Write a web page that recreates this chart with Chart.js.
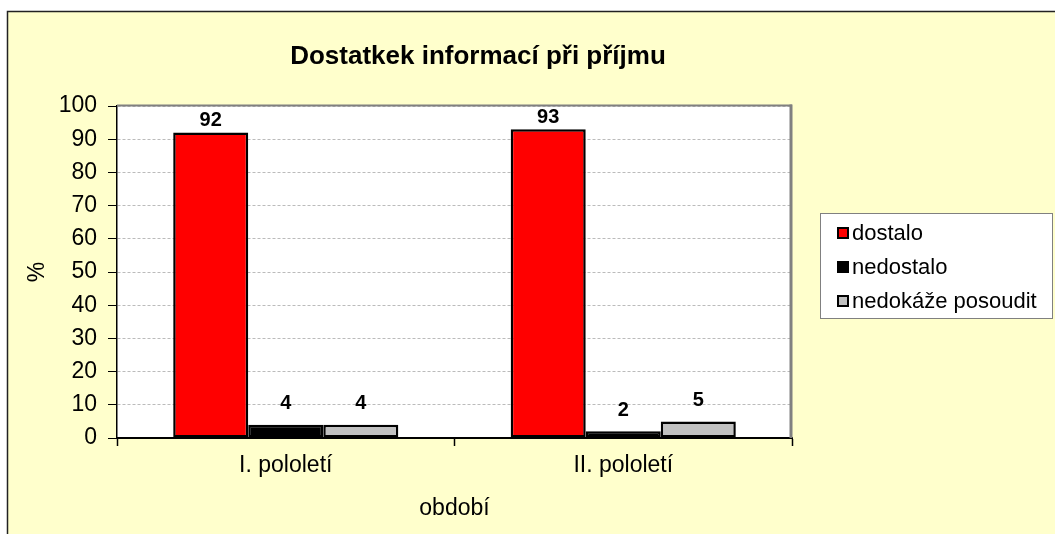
<!DOCTYPE html>
<html><head><meta charset="utf-8">
<script src="https://cdn.jsdelivr.net/npm/chart.js@4.4.0/dist/chart.umd.min.js"></script>
<style>html,body{margin:0;padding:0;background:#fff;overflow:hidden}#wrap{width:1055px;height:534px;position:relative}</style>
</head><body><div id="wrap"><canvas id="c" width="1055" height="534"></canvas></div>
<script>
const chartTitle = 'Dostatkek informací při příjmu';
const categories = ['I. pololetí', 'II. pololetí'];
const seriesNames = ['dostalo', 'nedostalo', 'nedokáže posoudit'];
const dostalo = [92, 93];
const nedostalo = [4, 2];
const nedokazePosoudit = [4, 5];
const yMin = 0, yMax = 100, yStep = 10;
const xTitle = 'období';
const yTitle = '%';

const FONT = "'Liberation Sans', Arial, sans-serif";
const colors = ['#FF0000', '#000000', '#C0C0C0'];
const labelOffsets = [12, 21, 21];
const seriesValues = [dostalo, nedostalo, nedokazePosoudit];

const bgPlugin = {
  id: 'bg',
  beforeDraw(chart) {
    const ctx = chart.ctx, a = chart.chartArea;
    ctx.save();
    ctx.fillStyle = '#FFFFFF';
    ctx.fillRect(0, 0, chart.width, chart.height);
    ctx.fillStyle = '#FFFFCC';
    ctx.fillRect(7, 11, chart.width, chart.height);
    ctx.strokeStyle = '#222222';
    ctx.lineWidth = 1.5;
    ctx.beginPath();
    ctx.moveTo(7.5, chart.height + 2);
    ctx.lineTo(7.5, 11.5);
    ctx.lineTo(chart.width + 2, 11.5);
    ctx.stroke();
    ctx.fillStyle = '#FFFFFF';
    ctx.fillRect(a.left, a.top, a.right - a.left, a.bottom - a.top);
    ctx.restore();
  },
  beforeDatasetsDraw(chart) {
    const ctx = chart.ctx, a = chart.chartArea;
    ctx.save();
    ctx.strokeStyle = '#808080';
    ctx.lineWidth = 2;
    ctx.beginPath();
    ctx.moveTo(a.left, a.top - 0.5);
    ctx.lineTo(a.right, a.top - 0.5);
    ctx.stroke();
    ctx.lineWidth = 3;
    ctx.beginPath();
    ctx.moveTo(a.right - 1, a.top - 1.5);
    ctx.lineTo(a.right - 1, a.bottom);
    ctx.stroke();
    ctx.restore();
  },
  afterDatasetsDraw(chart) {
    const ctx = chart.ctx;
    ctx.save();
    ctx.font = 'bold 20px ' + FONT;
    ctx.fillStyle = '#000';
    ctx.textAlign = 'center';
    ctx.textBaseline = 'middle';
    chart.data.datasets.forEach((ds, i) => {
      const meta = chart.getDatasetMeta(i);
      meta.data.forEach((el, j) => {
        ctx.fillText(String(ds.data[j]), el.x, el.y - labelOffsets[i]);
      });
    });
    ctx.restore();
  },
  afterDraw(chart) {
    const ctx = chart.ctx;
    ctx.save();
    // title
    ctx.font = 'bold 26px ' + FONT;
    ctx.fillStyle = '#000';
    ctx.textAlign = 'center';
    ctx.textBaseline = 'middle';
    ctx.fillText(chartTitle, 478, 57);
    // legend
    ctx.fillStyle = '#FFFFFF';
    ctx.fillRect(820, 213, 232, 105);
    ctx.strokeStyle = '#808080';
    ctx.lineWidth = 1;
    ctx.strokeRect(820.5, 213.5, 232, 105);
    ctx.font = '22px ' + FONT;
    ctx.textAlign = 'left';
    seriesNames.forEach((name, i) => {
      const cy = 233 + i * 34;
      ctx.fillStyle = colors[i];
      ctx.fillRect(838, cy - 5, 10, 10);
      ctx.strokeStyle = '#000';
      ctx.lineWidth = 2;
      ctx.strokeRect(838, cy - 5, 10, 10);
      ctx.fillStyle = '#000';
      ctx.fillText(name, 852, cy + 1);
    });
    ctx.restore();
  }
};

new Chart(document.getElementById('c'), {
  type: 'bar',
  data: {
    labels: categories,
    datasets: seriesNames.map((n, i) => ({
      label: n,
      data: seriesValues[i],
      backgroundColor: colors[i],
      borderColor: '#000000',
      borderWidth: 2.5,
      borderSkipped: false,
      barPercentage: 1,
      categoryPercentage: 0.667
    }))
  },
  options: {
    responsive: false,
    devicePixelRatio: 1,
    animation: false,
    layout: { padding: { left: 7, right: 263, top: 106, bottom: 0 } },
    plugins: { legend: { display: false }, title: { display: false }, tooltip: { enabled: false } },
    scales: {
      x: {
        offset: true,
        grid: { offset: true, drawOnChartArea: false, tickLength: 8, tickColor: '#000', tickWidth: 1.5 },
        border: { color: '#000', width: 2 },
        ticks: { font: { family: FONT, size: 23 }, color: '#000', padding: 6 },
        title: { display: true, text: xTitle, font: { family: FONT, size: 23 }, color: '#000', padding: { top: 0, bottom: 12 } },
        afterFit(s) { s.height = 96; }
      },
      y: {
        min: yMin, max: yMax,
        ticks: { stepSize: yStep, font: { family: FONT, size: 23 }, color: '#000', padding: 11 },
        grid: { color: '#BBBBBB', tickLength: 9, tickColor: '#000', tickBorderDash: [], lineWidth: 1 },
        border: { color: '#000', width: 1.5, dash: [3, 2] },
        title: { display: true, text: yTitle, font: { family: FONT, size: 23 }, color: '#000', padding: { top: 17, bottom: 0 } },
        afterFit(s) { s.width = 110; }
      }
    }
  },
  plugins: [bgPlugin]
});
</script></body></html>
